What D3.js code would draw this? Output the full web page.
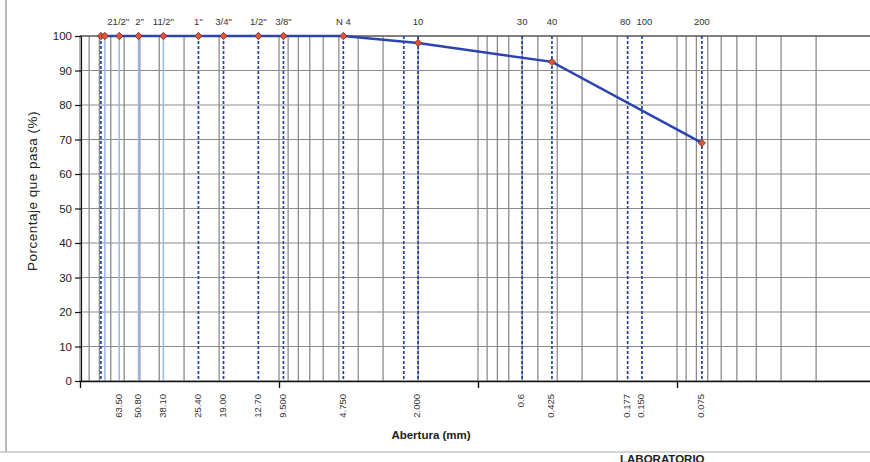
<!DOCTYPE html>
<html>
<head>
<meta charset="utf-8">
<script src="https://cdn.jsdelivr.net/npm/d3@7"></script>
<style>
  body { margin: 0; background: #fff; }
  svg { display: block; font-family: 'Liberation Sans', Arial, sans-serif; }
</style>
</head>
<body>
<div class="granulometria"></div>
<script>
// abertura de tamiz (mm) y porcentaje que pasa
const sieveSizes = [78.5, 75.0, 63.5, 50.8, 38.1, 25.4, 19.0, 12.7, 9.5, 4.75, 2.0, 0.425, 0.075];
const percentPassing = [100, 100, 100, 100, 100, 100, 100, 100, 100, 100, 98.0, 92.5, 69.0];

const sieveNames = ['21/2"', '2"', '11/2"', '1"', '3/4"', '1/2"', '3/8"', 'N 4', '10', '30', '40', '80', '100', '200'];
const nameSizes = [63.5, 50.8, 38.1, 25.4, 19.0, 12.7, 9.5, 4.75, 2.0, 0.6, 0.425, 0.177, 0.15, 0.075];
const openingLabels = ['63.50', '50.80', '38.10', '25.40', '19.00', '12.70', '9.500', '4.750', '2.000', '0.6', '0.425', '0.177', '0.150', '0.075'];

const dashedSieves = [78.5, 25.4, 19.0, 12.7, 9.5, 4.75, 2.36, 2.0, 0.6, 0.425, 0.177, 0.15, 0.075];
const lightSieves = [75.0, 63.5, 50.8, 38.1];

const yTicks = [0, 10, 20, 30, 40, 50, 60, 70, 80, 90, 100];
const decadeTicks = [100, 10, 1, 0.1];

const width = 870;
const height = 462;
const plotTop = 36;
const plotBottom = 381;
const plotLeft = 80;

const x = d3.scaleLog().domain([100, 0.01]).range([plotLeft, 876]);
const y = d3.scaleLinear().domain([0, 100]).range([plotBottom, plotTop]);

const svg = d3
  .select('.granulometria')
  .append('svg')
  .attr('width', width)
  .attr('height', height);

// marco exterior
svg.append('line').attr('x1', 6).attr('x2', 6).attr('y1', 0).attr('y2', 452)
  .attr('stroke', '#8a8a8a').attr('stroke-width', 1.2);
svg.append('line').attr('x1', 0).attr('x2', width).attr('y1', 452).attr('y2', 452)
  .attr('stroke', '#c4c4c4').attr('stroke-width', 1.5);

// rejilla
svg.append('g')
  .selectAll('line')
  .data(x.ticks())
  .enter()
  .append('line')
  .attr('x1', d => x(d)).attr('x2', d => x(d))
  .attr('y1', plotTop).attr('y2', plotBottom)
  .attr('stroke', '#6a6a6a').attr('stroke-width', 1);

svg.append('g')
  .selectAll('line')
  .data(yTicks)
  .enter()
  .append('line')
  .attr('x1', plotLeft).attr('x2', width)
  .attr('y1', d => y(d)).attr('y2', d => y(d))
  .attr('stroke', d => (d === 100 ? '#555' : '#8c8c8c'))
  .attr('stroke-width', d => (d === 100 ? 1.6 : 1));

// lineas de tamices
svg.append('g')
  .selectAll('line')
  .data(lightSieves)
  .enter()
  .append('line')
  .attr('x1', d => x(d)).attr('x2', d => x(d))
  .attr('y1', plotTop).attr('y2', plotBottom)
  .attr('stroke', '#9cbbe8').attr('stroke-width', 1.6);

svg.append('g')
  .selectAll('line')
  .data(dashedSieves)
  .enter()
  .append('line')
  .attr('x1', d => x(d)).attr('x2', d => x(d))
  .attr('y1', plotTop).attr('y2', plotBottom)
  .attr('stroke', '#24439a').attr('stroke-width', 1.7)
  .attr('stroke-dasharray', '3,2');

// curva granulometrica
const points = sieveSizes.map((s, i) => [s, percentPassing[i]]);
const line = d3.line().x(d => x(d[0])).y(d => y(d[1]));

svg.append('path')
  .datum(points)
  .attr('d', line)
  .attr('fill', 'none')
  .attr('stroke', '#2c44b2')
  .attr('stroke-width', 2.5);

svg.append('g')
  .selectAll('path')
  .data(points)
  .enter()
  .append('path')
  .attr('transform', d => `translate(${x(d[0])}, ${y(d[1])})`)
  .attr('d', d3.symbol().type(d3.symbolDiamond2).size(34))
  .attr('fill', '#d9573a')
  .attr('stroke', '#7d1f1f')
  .attr('stroke-width', 0.8);

// ejes
const yAxis = svg.append('g')
  .attr('transform', `translate(${plotLeft + 1}, 0)`)
  .call(d3.axisLeft(y).tickValues(yTicks).tickSize(6).tickPadding(3).tickSizeOuter(0));
yAxis.selectAll('text').attr('font-size', '11.5px').attr('fill', '#222');
yAxis.selectAll('line, path').attr('stroke', '#111').attr('stroke-width', 1.2);

const xAxis = svg.append('g')
  .attr('transform', `translate(0, ${plotBottom})`)
  .call(d3.axisBottom(x).tickValues(decadeTicks).tickSize(7).tickFormat('').tickSizeOuter(0));
xAxis.selectAll('line, path').attr('stroke', '#111').attr('stroke-width', 1.4);

// rotulos de tamices
const names = svg.append('g')
  .selectAll('text')
  .data(sieveNames)
  .enter()
  .append('text')
  .attr('x', (d, i) => x(nameSizes[i]))
  .attr('y', 25)
  .attr('text-anchor', 'middle')
  .attr('font-size', '9.5px')
  .attr('fill', '#333')
  .text(d => d);

// separar rotulos que se pisan
const boxes = names.nodes().map(n => ({ node: n, cx: +n.getAttribute('x'), w: n.getComputedTextLength() }));
for (let pass = 0; pass < 10; pass++) {
  for (let i = 1; i < boxes.length; i++) {
    const a = boxes[i - 1];
    const b = boxes[i];
    const overlap = a.cx + a.w / 2 + 6 - (b.cx - b.w / 2);
    if (overlap > 0) {
      a.cx -= overlap / 2;
      b.cx += overlap / 2;
    }
  }
}
boxes.forEach(b => b.node.setAttribute('x', b.cx));

svg.append('g')
  .selectAll('text')
  .data(openingLabels)
  .enter()
  .append('text')
  .attr('transform', (d, i) => `translate(${x(nameSizes[i]) - 1}, 394) rotate(-90)`)
  .attr('dy', '0.35em')
  .attr('text-anchor', 'end')
  .attr('font-size', '9.5px')
  .attr('fill', '#333')
  .text(d => d);

svg.append('text')
  .attr('x', 431)
  .attr('y', 439)
  .attr('text-anchor', 'middle')
  .attr('font-size', '11.5px')
  .attr('font-weight', 'bold')
  .attr('fill', '#222')
  .text('Abertura (mm)');

svg.append('text')
  .attr('transform', 'translate(37, 191) rotate(-90)')
  .attr('text-anchor', 'middle')
  .attr('font-size', '13.5px')
  .attr('letter-spacing', '0.5px')
  .attr('fill', '#222')
  .text('Porcentaje que pasa (%)');

svg.append('text')
  .attr('x', 620)
  .attr('y', 463)
  .attr('font-size', '11.5px')
  .attr('font-weight', 'bold')
  .attr('fill', '#222')
  .text('LABORATORIO');
</script>
</body>
</html>
